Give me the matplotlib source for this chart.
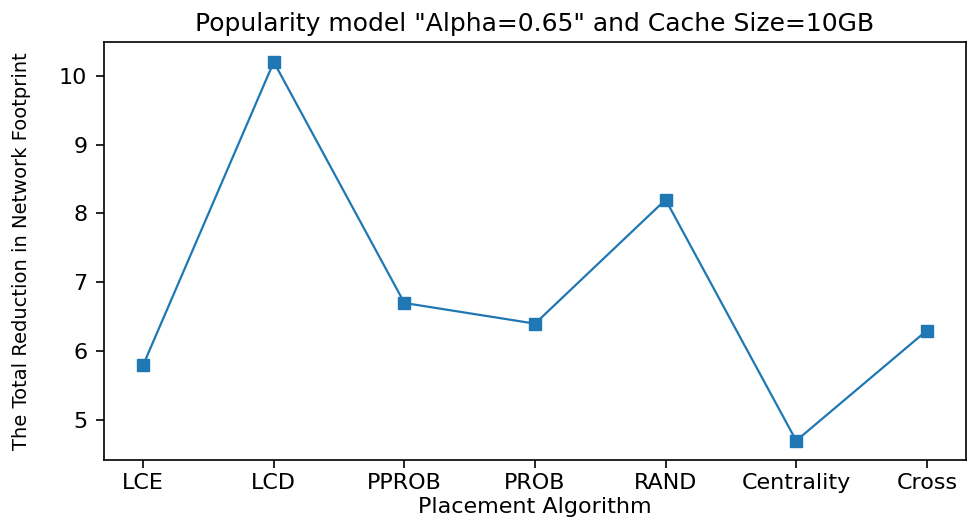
import matplotlib
matplotlib.use("Agg")
import matplotlib.pyplot as plt

categories = ["LCE", "LCD", "PPROB", "PROB", "RAND", "Centrality", "Cross"]
values = [5.8, 10.2, 6.7, 6.4, 8.2, 4.7, 6.3]
yticks = [5, 6, 7, 8, 9, 10]

fig = plt.figure(figsize=(9.76, 5.19), dpi=100)
ax = fig.add_axes([104/976, 1 - 460/519, (966-104)/976, (460-42)/519])
x = list(range(len(categories)))
ax.plot(x, values, marker="s", color="#1f77b4", markersize=9, linewidth=1.6)
ax.set_xticks(x)
ax.set_xticklabels(categories)
ax.set_yticks(yticks)
ax.set_ylim(4.42, 10.49)
ax.tick_params(labelsize=16, length=6, width=1.2)
ax.tick_params(axis="y", pad=6)
for s in ax.spines.values():
    s.set_linewidth(1.2)
ax.set_xlabel("Placement Algorithm", fontsize=16, labelpad=3)
ax.set_ylabel("The Total Reduction in Network Footprint", fontsize=14, labelpad=20)
ax.set_title('Popularity model "Alpha=0.65" and Cache Size=10GB', fontsize=18, pad=8)
fig.savefig("out.png", dpi=100)
